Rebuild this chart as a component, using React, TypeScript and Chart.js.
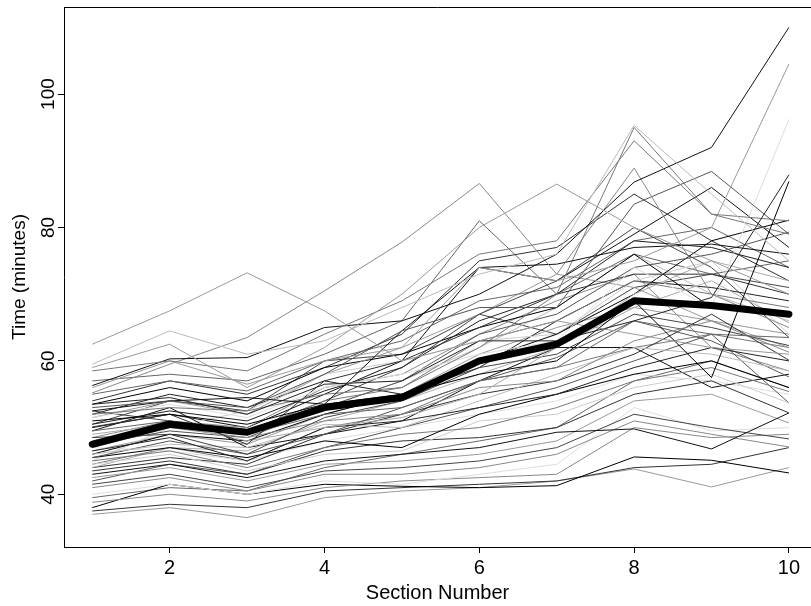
import React, { useEffect, useRef } from "react";
import { Chart, registerables } from "chart.js";

Chart.register(...registerables);

const sections = [1, 2, 3, 4, 5, 6, 7, 8, 9, 10];
const xTickLabels = [2, 4, 6, 8, 10];
const yTickLabels = [40, 60, 80, 100];
const xTitle = "Section Number";
const yTitle = "Time (minutes)";

const meanTimes = [47.5, 50.5, 49.3, 53, 54.5, 60, 62.5, 69, 68.3, 67];

const s01 = [62.5, 67.5, 73.2, 67.5, 60, 63, 66, 64, 62, 61];
const s02 = [59.5, 64.5, 61, 63, 68, 73, 76, 95.3, 85, 75];
const s03 = [59, 62.5, 56, 62, 70, 80, 86.5, 80, 75, 70];
const s04 = [58.5, 60, 58.5, 64, 69, 76, 78, 93, 82, 79];
const s05 = [56.3, 60.3, 60.5, 65, 66, 70, 76, 86.8, 92, 110];
const s06 = [56, 60, 56.5, 60, 62, 74, 72, 75, 80, 104.5];
const s07 = [55.2, 59.5, 63.5, 70.5, 77.8, 86.6, 73, 88.9, 70, 65];
const s08 = [53.5, 54.5, 52, 56.5, 57, 63, 63, 66, 69.5, 87.9];
const s09 = [53, 54, 53, 58, 64.5, 68, 68, 83.5, 88.4, 79];
const s10 = [52.5, 54, 54.5, 53.5, 64.5, 74, 74.5, 77, 77.5, 76];
const s11 = [52, 53, 52.5, 55, 56, 62, 70, 95, 82, 81];
const s12 = [51.5, 53.5, 51.5, 56, 58, 61, 63, 74, 68, 96.2];
const s13 = [51, 52, 50.5, 53.5, 55, 58, 60, 69, 57.5, 86.9];
const s14 = [50.1, 52, 47.5, 57, 60, 65, 70, 73, 73, 70];
const s15 = [49.5, 51, 49, 52, 53, 57, 59, 66, 64, 63.5];
const s16 = [49, 50.5, 48, 50, 51.5, 55, 62, 70, 75, 72];
const s17 = [48.5, 49, 46, 51.5, 54, 59, 61, 67, 65, 62.3];
const s18 = [47, 50, 48.5, 51, 52, 56, 57, 63, 66, 61.3];
const s19 = [46.5, 48.5, 45, 50, 51, 53, 55, 59, 62, 60];
const s20 = [46, 47.5, 47, 50.5, 50, 54, 58, 62, 61, 58.5];
const s21 = [45.5, 48, 46, 49, 53, 57, 60.5, 66, 63, 57.6];
const s22 = [45.5, 47, 45.5, 48, 47, 52, 55, 58, 60, 56];
const s23 = [45, 46.5, 44, 47, 49, 50, 53, 57, 59, 55.4];
const s24 = [44.5, 46, 43.5, 46, 46.5, 51, 52, 56, 58, 53.7];
const s25 = [43.5, 45, 43, 46.5, 48, 48.5, 50, 55, 57, 52.2];
const s26 = [43, 44.5, 42.5, 45, 46, 47, 49.3, 49.8, 46.8, 52.2];
const s27 = [42.5, 44, 42, 44.5, 45, 46, 48, 54, 55, 50.7];
const s28 = [41.5, 43, 41, 43.5, 44, 45, 47, 52, 50, 48.3];
const s29 = [41, 42.5, 40.5, 43, 43, 44, 46, 51, 49, 47.1];
const s30 = [40, 41.5, 40, 42, 41.5, 43, 44.5, 53, 49.5, 50];
const s31 = [38.8, 40, 39, 41, 42, 42.5, 43, 50, 48.5, 49];
const s32 = [38, 41.5, 40, 41.5, 41.2, 41, 41.3, 45.6, 45.1, 43.2];
const s33 = [37.5, 38.5, 38, 40.5, 41, 41.5, 42, 44, 44.5, 47];
const s34 = [37, 38, 36.5, 39.5, 40.5, 41, 42, 43.8, 41.1, 44];
const s35 = [50.5, 52.5, 51, 55.5, 59, 66, 70, 78, 77, 74];
const s36 = [48, 50, 49.5, 54, 56, 63, 66, 72, 70, 68];
const s37 = [47.5, 49.5, 48.5, 53, 57, 64, 67, 74, 76, 79.3];
const s38 = [46, 49, 48, 52, 55, 60, 64, 70, 78, 81.1];
const s39 = [44, 47, 46.5, 51, 54, 58, 62, 68, 72, 65.7];
const s40 = [52.5, 51, 49.5, 54, 59, 67, 72, 80, 74, 63.5];
const s41 = [55, 57, 55.5, 60, 63, 69, 71, 78, 80, 74];
const s42 = [49.5, 53, 47, 49, 51, 57, 62, 62, 56, 58];
const s43 = [45, 50, 52.5, 58, 60, 63, 64, 72, 75, 64];
const s44 = [44, 45.5, 44.5, 49, 52, 55, 57, 61, 67, 60.1];
const s45 = [51.5, 54, 52, 58, 62, 67, 73, 71, 66, 62];
const s46 = [42, 44.5, 43, 47, 50, 53, 56, 60, 64, 53.7];
const s47 = [47, 46.5, 45, 48, 50, 52, 54, 58, 57, 55];
const s48 = [53.5, 56, 54, 59, 61, 65, 68, 76, 68, 67];
const s49 = [39.5, 41, 40.5, 44, 46, 48, 50, 57, 60, 56];
const s50 = [48.5, 51, 50, 56, 58, 64, 69, 73, 62, 58.5];
const s51 = [54, 57, 55, 59, 64, 75, 77, 85, 78, 72];
const s52 = [50, 52, 50, 55, 60, 74, 72, 79, 86, 77];
const s53 = [57, 58, 57, 61, 66, 81, 70, 76, 73, 75];
const s54 = [48, 51, 49, 53, 57, 62, 68, 76, 70, 66];
const s55 = [52, 55, 53, 57, 55, 59, 66, 72, 71, 69];
const s56 = [46.5, 49, 47.5, 52, 55, 61, 65, 68, 66, 64];
const s57 = [50.5, 54, 52.5, 60, 61, 67, 64, 71, 73, 71];
const s58 = [44.5, 47, 45, 50, 52, 57, 59, 62, 64, 62];

const runners = [
  s01, s02, s03, s04, s05, s06, s07, s08, s09, s10,
  s11, s12, s13, s14, s15, s16, s17, s18, s19, s20,
  s21, s22, s23, s24, s25, s26, s27, s28, s29, s30,
  s31, s32, s33, s34, s35, s36, s37, s38, s39, s40,
  s41, s42, s43, s44, s45, s46, s47, s48, s49, s50,
  s51, s52, s53, s54, s55, s56, s57, s58,
];

const runnerGrays = [
  "#999999", "#bbbbbb", "#999999", "#777777", "#111111", "#999999", "#888888", "#222222", "#555555", "#111111",
  "#777777", "#dddddd", "#000000", "#333333", "#666666", "#aaaaaa", "#444444", "#888888", "#222222", "#bbbbbb",
  "#555555", "#000000", "#777777", "#cccccc", "#333333", "#111111", "#999999", "#444444", "#888888", "#dddddd",
  "#888888", "#000000", "#333333", "#999999", "#222222", "#777777", "#555555", "#000000", "#aaaaaa", "#444444",
  "#666666", "#111111", "#cccccc", "#333333", "#999999", "#555555", "#dddddd", "#000000", "#666666", "#888888",
  "#333333", "#111111", "#666666", "#bbbbbb", "#222222", "#999999", "#444444", "#777777",
];

const FONT = "'Liberation Sans', Arial, Helvetica, sans-serif";

export default function App() {
  const ref = useRef<HTMLCanvasElement | null>(null);

  useEffect(() => {
    const canvas = ref.current;
    if (!canvas) return;

    const datasets: any[] = [
      {
        label: "Mean",
        data: sections.map((s, i) => ({ x: s, y: meanTimes[i] })),
        borderColor: "#000000",
        borderWidth: 7,
        borderCapStyle: "round",
        borderJoinStyle: "round",
        pointRadius: 0,
        fill: false,
        tension: 0,
        order: -1,
      },
      ...runners.map((r, k) => ({
        label: "Runner " + (k + 1),
        data: sections.map((s, i) => ({ x: s, y: r[i] })),
        borderColor: runnerGrays[k],
        borderWidth: 1,
        pointRadius: 0,
        fill: false,
        tension: 0,
        order: 0,
      })),
    ];

    const frame = {
      id: "frame",
      afterDraw(chart: any) {
        const { ctx, chartArea } = chart;
        const ys = chart.scales.y;
        ctx.save();
        ctx.strokeStyle = "#000";
        ctx.lineWidth = 1;
        ctx.beginPath();
        ctx.moveTo(chartArea.left, chartArea.top + 0.5);
        ctx.lineTo(chartArea.right, chartArea.top + 0.5);
        ctx.stroke();
        ctx.fillStyle = "#000";
        ctx.font = "19px " + FONT;
        ctx.textAlign = "center";
        ctx.textBaseline = "alphabetic";
        for (const v of yTickLabels) {
          const py = ys.getPixelForValue(v);
          ctx.save();
          ctx.translate(53.5, py);
          ctx.rotate(-Math.PI / 2);
          ctx.fillText(String(v), 0, 0);
          ctx.restore();
        }
        ctx.restore();
      },
    };

    const chart = new Chart(canvas, {
      type: "line",
      data: { datasets },
      plugins: [frame],
      options: {
        animation: false,
        responsive: false,
        maintainAspectRatio: false,
        layout: { padding: { top: 7, right: 0, left: 0, bottom: 0 } },
        plugins: {
          legend: { display: false },
          tooltip: { enabled: false },
        },
        scales: {
          x: {
            type: "linear",
            min: 0.635,
            max: 10.285,
            afterBuildTicks: (s: any) => {
              s.ticks = xTickLabels.map((v) => ({ value: v }));
            },
            afterFit: (s: any) => {
              s.height = 59;
            },
            grid: {
              drawOnChartArea: false,
              drawTicks: true,
              tickLength: 6,
              color: "#000",
              lineWidth: 1,
            },
            border: { display: true, color: "#000", width: 1 },
            ticks: {
              autoSkip: false,
              maxRotation: 0,
              minRotation: 0,
              padding: 3,
              color: "#000",
              font: { family: FONT, size: 20 },
            },
            title: {
              display: true,
              text: xTitle,
              color: "#000",
              font: { family: FONT, size: 20 },
              padding: { top: 0, bottom: 1 },
            },
          },
          y: {
            type: "linear",
            min: 32.1,
            max: 113.05,
            afterBuildTicks: (s: any) => {
              s.ticks = yTickLabels.map((v) => ({ value: v }));
            },
            afterFit: (s: any) => {
              s.width = 64;
            },
            grid: {
              drawOnChartArea: false,
              drawTicks: true,
              tickLength: 6,
              color: "#000",
              lineWidth: 1,
            },
            border: { display: true, color: "#000", width: 1 },
            ticks: { display: false },
            title: {
              display: true,
              text: yTitle,
              color: "#000",
              font: { family: FONT, size: 19 },
              padding: { top: 8, bottom: 0 },
            },
          },
        },
      } as any,
    });

    return () => chart.destroy();
  }, []);

  return (
    <div style={{ position: "absolute", left: 0, top: 0, width: 811, height: 606, background: "#fff" }}>
      <canvas ref={ref} width={811} height={606} style={{ display: "block" }} />
    </div>
  );
}
